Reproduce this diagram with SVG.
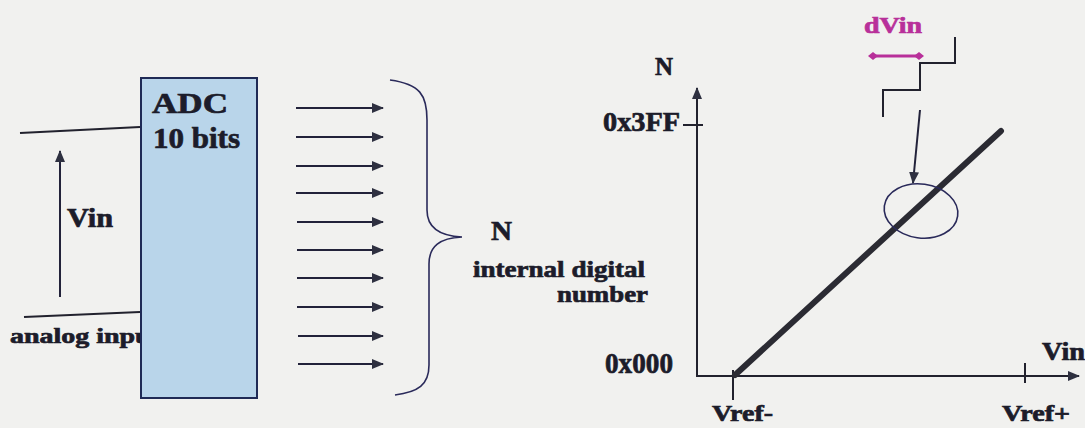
<svg xmlns="http://www.w3.org/2000/svg" width="1085" height="428" viewBox="0 0 1085 428">
<style>
text{font-family:"Liberation Serif","Times New Roman",serif;font-weight:bold;fill:#1c1c2a;stroke:#1c1c2a;stroke-width:0.7}
.ln{stroke:#22222e;stroke-width:2;fill:none}
.nv{stroke:#2a2a5a;stroke-width:1.6;fill:none}
.ar{stroke:#22223a;stroke-width:2;fill:none;marker-end:url(#ah)}
</style>
<defs>
<marker id="ah" markerWidth="12" markerHeight="10" refX="11" refY="5" orient="auto" markerUnits="userSpaceOnUse">
<path d="M0,0 L12,5 L0,10 Z" fill="#2e3040"/>
</marker>
<marker id="dm" markerWidth="10" markerHeight="8" refX="5" refY="4" orient="auto" markerUnits="userSpaceOnUse">
<path d="M0,4 L5,0 L10,4 L5,8 Z" fill="#b8309a"/>
</marker>
</defs>
<rect width="1085" height="428" fill="#f1f1ef"/>

<g id="input">
<line class="ln" x1="20" y1="133" x2="140" y2="127"/>
<line class="ln" x1="24" y1="317" x2="140" y2="312"/>
<line class="ar" x1="60" y1="297" x2="60" y2="151"/>
<text x="67" y="227" font-size="27" textLength="46" lengthAdjust="spacingAndGlyphs">Vin</text>
<text x="10" y="343" font-size="22" textLength="150" lengthAdjust="spacingAndGlyphs">analog input</text>
</g>

<g id="adc">
<rect x="141" y="78" width="116" height="320" fill="#b9d5ea" stroke="#1f2a55" stroke-width="2"/>
<text x="152" y="113" font-size="29" textLength="76" lengthAdjust="spacingAndGlyphs">ADC</text>
<text x="153" y="148" font-size="29" textLength="87" lengthAdjust="spacingAndGlyphs">10 bits</text>
</g>

<g id="connectors">
<line class="ar" x1="296" y1="108" x2="383" y2="108"/>
<line class="ar" x1="296" y1="137" x2="383" y2="137"/>
<line class="ar" x1="296" y1="166" x2="383" y2="166"/>
<line class="ar" x1="296" y1="193" x2="383" y2="193"/>
<line class="ar" x1="297" y1="222" x2="383" y2="222"/>
<line class="ar" x1="297" y1="250" x2="383" y2="250"/>
<line class="ar" x1="297" y1="278" x2="383" y2="278"/>
<line class="ar" x1="297" y1="307" x2="383" y2="307"/>
<line class="ar" x1="298" y1="336" x2="383" y2="336"/>
<line class="ar" x1="298" y1="364" x2="383" y2="364"/>
</g>

<g id="brace">
<path class="nv" d="M390,80 C420,84 427,95 427,120 L427,210 C427,228 440,236 462,237 C440,238 429,246 429,264 L429,365 C429,385 418,392 395,395"/>
<text x="491" y="240" font-size="28" textLength="21" lengthAdjust="spacingAndGlyphs">N</text>
<text x="473" y="277" font-size="24" textLength="172" lengthAdjust="spacingAndGlyphs">internal digital</text>
<text x="557" y="302" font-size="24" textLength="91" lengthAdjust="spacingAndGlyphs">number</text>
</g>

<g id="graph">
<line class="ln" x1="697" y1="377" x2="697" y2="88" marker-end="url(#ah)"/>
<line class="ln" x1="697" y1="376" x2="1079" y2="376" marker-end="url(#ah)"/>
<line class="ln" x1="683" y1="125" x2="703" y2="125"/>
<line class="ln" x1="733" y1="370" x2="733" y2="400"/>
<line class="ln" x1="1025" y1="363" x2="1025" y2="383"/>
<line x1="735" y1="375" x2="1001" y2="131" stroke="#2b2b33" stroke-width="6" stroke-linecap="round"/>
<text x="655" y="75" font-size="26" textLength="18" lengthAdjust="spacingAndGlyphs">N</text>
<text x="603" y="131" font-size="27" textLength="77" lengthAdjust="spacingAndGlyphs">0x3FF</text>
<text x="605" y="373" font-size="29" textLength="68" lengthAdjust="spacingAndGlyphs">0x000</text>
<text x="1042" y="360" font-size="26" textLength="43" lengthAdjust="spacingAndGlyphs">Vin</text>
<text x="712" y="421" font-size="23" textLength="61" lengthAdjust="spacingAndGlyphs">Vref-</text>
<text x="1002" y="421" font-size="23" textLength="68" lengthAdjust="spacingAndGlyphs">Vref+</text>
</g>

<g id="zoom-detail">
<ellipse cx="921" cy="211" rx="37" ry="27" transform="rotate(8 921 211)" class="nv"/>
<line class="ar" x1="920" y1="110" x2="913" y2="183" stroke-width="1.6"/>
<polyline class="ln" points="883,117 883,90 920,90 920,63 955,63 955,37"/>
<line x1="873" y1="56" x2="919" y2="56" stroke="#b8309a" stroke-width="3" marker-start="url(#dm)" marker-end="url(#dm)"/>
<text x="864" y="33" font-size="23" textLength="58" lengthAdjust="spacingAndGlyphs" style="fill:#b8309a;stroke:#b8309a">dVin</text>
</g>
</svg>
